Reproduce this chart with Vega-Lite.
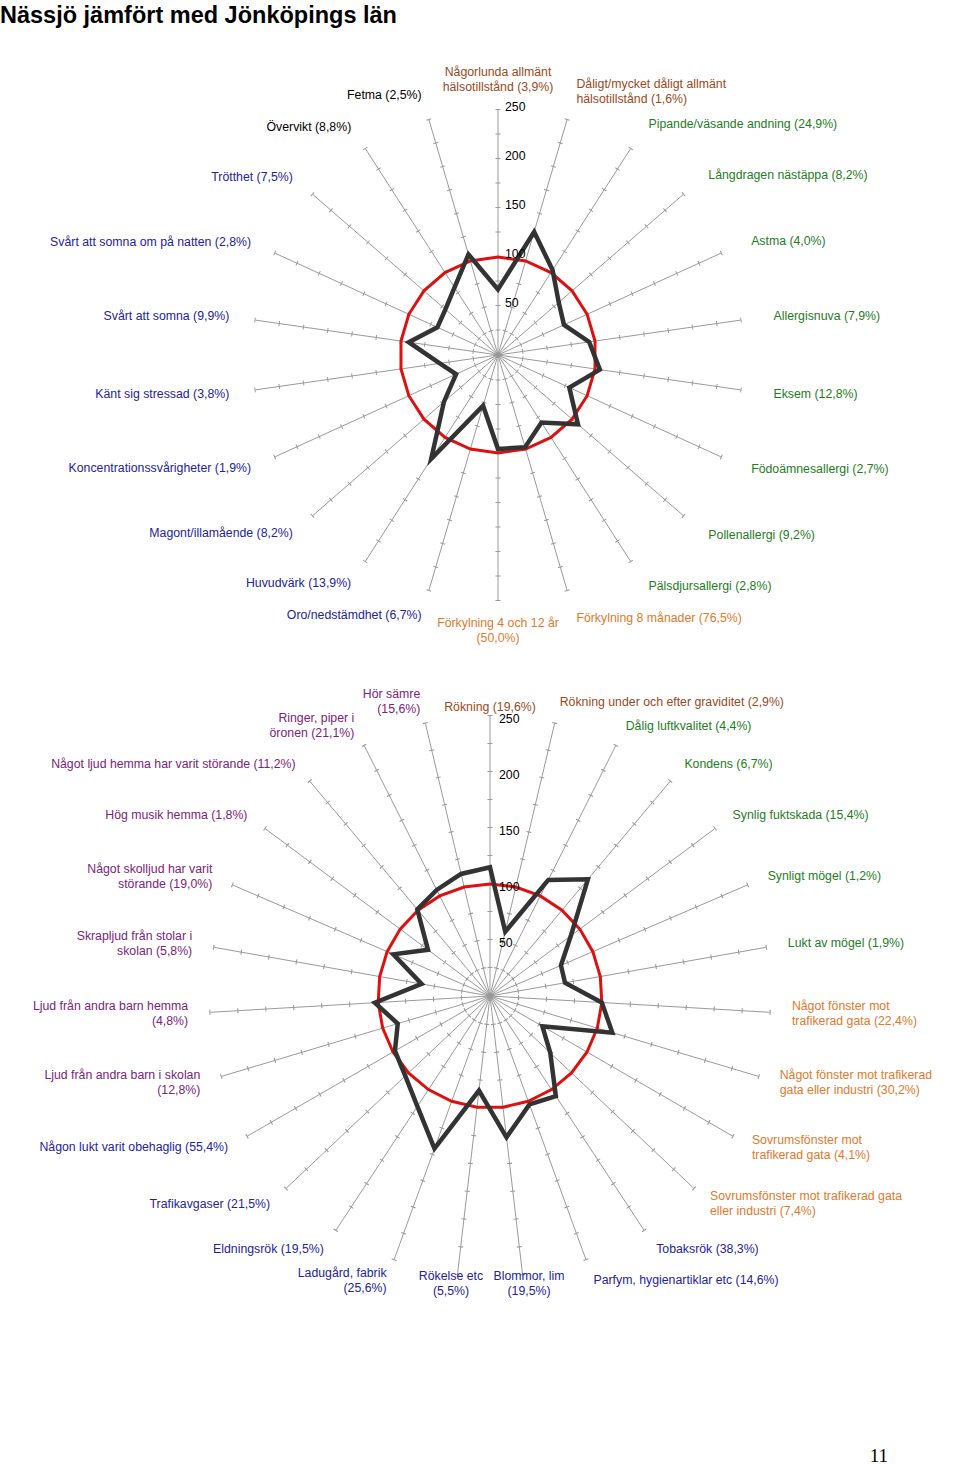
{
 "$schema": "https://vega.github.io/schema/vega-lite/v6.json",
 "padding": {"top": 3, "left": 0, "right": 0, "bottom": 0},
 "spacing": 0,
 "bounds": "flush",
 "background": "white",
 "title": {"text": "Nässjö jämfört med Jönköpings län", "anchor": "start", "frame": "group", "font": "Liberation Sans", "fontSize": 23.5, "fontWeight": "bold", "color": "#000000", "offset": 0},
 "config": {"view": {"stroke": null}, "text": {"font": "Liberation Sans", "fontSize": 12.3}},
 "datasets": {
  "c1": [
   {"i": 0, "value": 67, "lan": 100, "label": "Någorlunda allmänt\nhälsotillstånd (3,9%)", "grp": "brun"},
   {"i": 1, "value": 131, "lan": 100, "label": "Dåligt/mycket dåligt allmänt\nhälsotillstånd (1,6%)", "grp": "brun"},
   {"i": 2, "value": 103, "lan": 100, "label": "Pipande/väsande andning (24,9%)", "grp": "gron"},
   {"i": 3, "value": 82, "lan": 100, "label": "Långdragen nästäppa (8,2%)", "grp": "gron"},
   {"i": 4, "value": 74, "lan": 100, "label": "Astma (4,0%)", "grp": "gron"},
   {"i": 5, "value": 94, "lan": 100, "label": "Allergisnuva (7,9%)", "grp": "gron"},
   {"i": 6, "value": 105, "lan": 100, "label": "Eksem (12,8%)", "grp": "gron"},
   {"i": 7, "value": 80, "lan": 100, "label": "Födoämnesallergi (2,7%)", "grp": "gron"},
   {"i": 8, "value": 108, "lan": 100, "label": "Pollenallergi  (9,2%)", "grp": "gron"},
   {"i": 9, "value": 82, "lan": 100, "label": "Pälsdjursallergi (2,8%)", "grp": "gron"},
   {"i": 10, "value": 98, "lan": 100, "label": "Förkylning 8 månader (76,5%)", "grp": "orange"},
   {"i": 11, "value": 96, "lan": 100, "label": "Förkylning 4 och 12 år\n(50,0%)", "grp": "orange"},
   {"i": 12, "value": 54, "lan": 100, "label": "Oro/nedstämdhet (6,7%)", "grp": "bla"},
   {"i": 13, "value": 126, "lan": 100, "label": "Huvudvärk (13,9%)", "grp": "bla"},
   {"i": 14, "value": 73, "lan": 100, "label": "Magont/illamående (8,2%)", "grp": "bla"},
   {"i": 15, "value": 47, "lan": 100, "label": "Koncentrationssvårigheter (1,9%)", "grp": "bla"},
   {"i": 16, "value": 60, "lan": 100, "label": "Känt sig stressad (3,8%)", "grp": "bla"},
   {"i": 17, "value": 92, "lan": 100, "label": "Svårt att somna (9,9%)", "grp": "bla"},
   {"i": 18, "value": 68, "lan": 100, "label": "Svårt att somna om på natten (2,8%)", "grp": "bla"},
   {"i": 19, "value": 71, "lan": 100, "label": "Trötthet (7,5%)", "grp": "bla"},
   {"i": 20, "value": 82, "lan": 100, "label": "Övervikt (8,8%)", "grp": "svart"},
   {"i": 21, "value": 107, "lan": 100, "label": "Fetma (2,5%)", "grp": "svart"}
  ],
  "c2": [
   {"i": 0, "value": 115, "lan": 100, "label": "Rökning (19,6%)", "grp": "brun"},
   {"i": 1, "value": 59, "lan": 100, "label": "Rökning under och efter graviditet (2,9%)", "grp": "brun"},
   {"i": 2, "value": 116, "lan": 100, "label": "Dålig luftkvalitet (4,4%)", "grp": "gron"},
   {"i": 3, "value": 136, "lan": 100, "label": "Kondens (6,7%)", "grp": "gron"},
   {"i": 4, "value": 90, "lan": 100, "label": "Synlig fuktskada (15,4%)", "grp": "gron"},
   {"i": 5, "value": 69, "lan": 100, "label": "Synligt mögel (1,2%)", "grp": "gron"},
   {"i": 6, "value": 68, "lan": 100, "label": "Lukt av mögel (1,9%)", "grp": "gron"},
   {"i": 7, "value": 100, "lan": 100, "label": "Något fönster mot\ntrafikerad gata (22,4%)", "grp": "orange"},
   {"i": 8, "value": 114, "lan": 100, "label": "Något fönster mot trafikerad\ngata eller industri (30,2%)", "grp": "orange"},
   {"i": 9, "value": 54, "lan": 100, "label": "Sovrumsfönster mot\ntrafikerad gata (4,1%)", "grp": "orange"},
   {"i": 10, "value": 74, "lan": 100, "label": "Sovrumsfönster mot trafikerad gata\neller industri (7,4%)", "grp": "orange"},
   {"i": 11, "value": 107, "lan": 100, "label": "Tobaksrök (38,3%)", "grp": "bla"},
   {"i": 12, "value": 103, "lan": 100, "label": "Parfym, hygienartiklar etc (14,6%)", "grp": "bla"},
   {"i": 13, "value": 127, "lan": 100, "label": "Blommor, lim\n(19,5%)", "grp": "bla"},
   {"i": 14, "value": 85, "lan": 100, "label": "Rökelse etc\n(5,5%)", "grp": "bla"},
   {"i": 15, "value": 145, "lan": 100, "label": "Ladugård, fabrik\n(25,6%)", "grp": "bla"},
   {"i": 16, "value": 118, "lan": 100, "label": "Eldningsrök (19,5%)", "grp": "bla"},
   {"i": 17, "value": 104, "lan": 100, "label": "Trafikavgaser (21,5%)", "grp": "bla"},
   {"i": 18, "value": 98, "lan": 100, "label": "Någon lukt varit obehaglig (55,4%)", "grp": "bla"},
   {"i": 19, "value": 86, "lan": 100, "label": "Ljud från andra barn i skolan\n(12,8%)", "grp": "lila"},
   {"i": 20, "value": 103, "lan": 100, "label": "Ljud från andra barn hemma\n(4,8%)", "grp": "lila"},
   {"i": 21, "value": 62, "lan": 100, "label": "Skrapljud från stolar i\nskolan (5,8%)", "grp": "lila"},
   {"i": 22, "value": 94, "lan": 100, "label": "Något skolljud har varit\nstörande (19,0%)", "grp": "lila"},
   {"i": 23, "value": 69, "lan": 100, "label": "Hög musik hemma (1,8%)", "grp": "lila"},
   {"i": 24, "value": 101, "lan": 100, "label": "Något ljud hemma har varit störande (11,2%)", "grp": "lila"},
   {"i": 25, "value": 106, "lan": 100, "label": "Ringer, piper i\nöronen (21,1%)", "grp": "lila"},
   {"i": 26, "value": 112, "lan": 100, "label": "Hör sämre\n(15,6%)", "grp": "lila"}
  ],
  "ax": [{"v": 50}, {"v": 100}, {"v": 150}, {"v": 200}, {"v": 250}]
 },
 "vconcat": [
  {
   "width": 960, "height": 620,
   "data": {"name": "c1"},
   "encoding": {
    "x": {"field": "x", "type": "quantitative", "scale": {"domain": [-508.16, 471.43], "nice": false, "zero": false}, "axis": null},
    "y": {"field": "y", "type": "quantitative", "scale": {"domain": [-297.96, 334.69], "nice": false, "zero": false}, "axis": null}
   },
   "layer": [
    {
     "transform": [{"calculate": "2*PI*datum.i/22", "as": "t"}, {"calculate": "0", "as": "x"}, {"calculate": "0", "as": "y"}, {"calculate": "250*sin(datum.t)", "as": "x2"}, {"calculate": "250*cos(datum.t)", "as": "y2"}],
     "mark": {"type": "rule", "color": "#9a9a9a", "strokeWidth": 1},
     "encoding": {"x2": {"field": "x2"}, "y2": {"field": "y2"}}
    },
    {
     "transform": [{"calculate": "2*PI*datum.i/22", "as": "t"}, {"calculate": "0", "as": "x"}, {"calculate": "0", "as": "y"}, {"calculate": "251*sin(datum.t)", "as": "x2"}, {"calculate": "251*cos(datum.t)", "as": "y2"}],
     "mark": {"type": "rule", "color": "#9a9a9a", "strokeWidth": 5, "strokeDash": [1, 23.5], "strokeCap": "butt"},
     "encoding": {"x2": {"field": "x2"}, "y2": {"field": "y2"}}
    },
    {
     "transform": [{"calculate": "2*PI*datum.i/22", "as": "t"}, {"calculate": "datum.lan*sin(datum.t)", "as": "x"}, {"calculate": "datum.lan*cos(datum.t)", "as": "y"}],
     "mark": {"type": "line", "color": "#dd1111", "strokeWidth": 3, "interpolate": "linear-closed"},
     "encoding": {"order": {"field": "i", "type": "quantitative"}}
    },
    {
     "transform": [{"calculate": "2*PI*datum.i/22", "as": "t"}, {"calculate": "datum.value*sin(datum.t)", "as": "x"}, {"calculate": "datum.value*cos(datum.t)", "as": "y"}],
     "mark": {"type": "line", "color": "#333333", "strokeWidth": 4.5, "interpolate": "linear-closed", "strokeJoin": "miter"},
     "encoding": {"order": {"field": "i", "type": "quantitative"}}
    },
    {
     "transform": [{"calculate": "2*PI*datum.i/22", "as": "t"}, {"filter": "sin(datum.t) > 0.2"}, {"calculate": "length(split(datum.label, '\\n'))", "as": "nl"}, {"calculate": "284*sin(datum.t)", "as": "x"}, {"calculate": "280*cos(datum.t) + (datum.nl - 1)*7.65", "as": "y"}],
     "mark": {"type": "text", "align": "left", "baseline": "middle", "lineBreak": "\n", "lineHeight": 15},
     "encoding": {"text": {"field": "label"}, "color": {"field": "grp", "type": "nominal", "scale": {"domain": ["brun", "gron", "orange", "bla", "svart", "lila"], "range": ["#994a22", "#1e7d1e", "#e07a2e", "#2323a0", "#000000", "#7b247b"]}, "legend": null}}
    },
    {
     "transform": [{"calculate": "2*PI*datum.i/22", "as": "t"}, {"filter": "sin(datum.t) < -0.2"}, {"calculate": "length(split(datum.label, '\\n'))", "as": "nl"}, {"calculate": "277*sin(datum.t)", "as": "x"}, {"calculate": "277*cos(datum.t) + (datum.nl - 1)*7.65", "as": "y"}],
     "mark": {"type": "text", "align": "right", "baseline": "middle", "lineBreak": "\n", "lineHeight": 15},
     "encoding": {"text": {"field": "label"}, "color": {"field": "grp", "type": "nominal", "scale": {"domain": ["brun", "gron", "orange", "bla", "svart", "lila"], "range": ["#994a22", "#1e7d1e", "#e07a2e", "#2323a0", "#000000", "#7b247b"]}, "legend": null}}
    },
    {
     "transform": [{"calculate": "2*PI*datum.i/22", "as": "t"}, {"filter": "abs(sin(datum.t)) <= 0.2"}, {"calculate": "length(split(datum.label, '\\n'))", "as": "nl"}, {"calculate": "281*sin(datum.t)", "as": "x"}, {"calculate": "281*cos(datum.t) + (datum.nl - 1)*7.65", "as": "y"}],
     "mark": {"type": "text", "align": "center", "baseline": "middle", "lineBreak": "\n", "lineHeight": 15},
     "encoding": {"text": {"field": "label"}, "color": {"field": "grp", "type": "nominal", "scale": {"domain": ["brun", "gron", "orange", "bla", "svart", "lila"], "range": ["#994a22", "#1e7d1e", "#e07a2e", "#2323a0", "#000000", "#7b247b"]}, "legend": null}}
    },
    {
     "data": {"name": "ax"},
     "transform": [{"calculate": "0", "as": "x"}, {"calculate": "datum.v", "as": "y"}],
     "mark": {"type": "text", "align": "left", "baseline": "middle", "dx": 7, "dy": -3, "color": "#000000"},
     "encoding": {"text": {"field": "v", "type": "quantitative", "format": "d"}}
    }
   ]
  },
  {
   "width": 960, "height": 798,
   "title": {"text": "11", "orient": "bottom", "anchor": "end", "font": "Liberation Serif", "fontSize": 19, "fontWeight": "normal", "color": "#000000", "dx": -72, "offset": 2},
   "data": {"name": "c2"},
   "encoding": {
    "x": {"field": "x", "type": "quantitative", "scale": {"domain": [-437.5, 419.64], "nice": false, "zero": false}, "axis": null},
    "y": {"field": "y", "type": "quantitative", "scale": {"domain": [-400.89, 311.61], "nice": false, "zero": false}, "axis": null}
   },
   "layer": [
    {
     "transform": [{"calculate": "2*PI*datum.i/27", "as": "t"}, {"calculate": "0", "as": "x"}, {"calculate": "0", "as": "y"}, {"calculate": "250*sin(datum.t)", "as": "x2"}, {"calculate": "250*cos(datum.t)", "as": "y2"}],
     "mark": {"type": "rule", "color": "#9a9a9a", "strokeWidth": 1},
     "encoding": {"x2": {"field": "x2"}, "y2": {"field": "y2"}}
    },
    {
     "transform": [{"calculate": "2*PI*datum.i/27", "as": "t"}, {"calculate": "0", "as": "x"}, {"calculate": "0", "as": "y"}, {"calculate": "251*sin(datum.t)", "as": "x2"}, {"calculate": "251*cos(datum.t)", "as": "y2"}],
     "mark": {"type": "rule", "color": "#9a9a9a", "strokeWidth": 5, "strokeDash": [1.1, 26.9], "strokeCap": "butt"},
     "encoding": {"x2": {"field": "x2"}, "y2": {"field": "y2"}}
    },
    {
     "transform": [{"calculate": "2*PI*datum.i/27", "as": "t"}, {"calculate": "datum.lan*sin(datum.t)", "as": "x"}, {"calculate": "datum.lan*cos(datum.t)", "as": "y"}],
     "mark": {"type": "line", "color": "#dd1111", "strokeWidth": 3, "interpolate": "linear-closed"},
     "encoding": {"order": {"field": "i", "type": "quantitative"}}
    },
    {
     "transform": [{"calculate": "2*PI*datum.i/27", "as": "t"}, {"calculate": "datum.value*sin(datum.t)", "as": "x"}, {"calculate": "datum.value*cos(datum.t)", "as": "y"}],
     "mark": {"type": "line", "color": "#333333", "strokeWidth": 4.5, "interpolate": "linear-closed", "strokeJoin": "miter"},
     "encoding": {"order": {"field": "i", "type": "quantitative"}}
    },
    {
     "transform": [{"calculate": "2*PI*datum.i/27", "as": "t"}, {"filter": "sin(datum.t) > 0.2"}, {"calculate": "length(split(datum.label, '\\n'))", "as": "nl"}, {"calculate": "270*sin(datum.t)", "as": "x"}, {"calculate": "270*cos(datum.t) + (datum.nl - 1)*6.7", "as": "y"}],
     "mark": {"type": "text", "align": "left", "baseline": "middle", "lineBreak": "\n", "lineHeight": 15},
     "encoding": {"text": {"field": "label"}, "color": {"field": "grp", "type": "nominal", "scale": {"domain": ["brun", "gron", "orange", "bla", "svart", "lila"], "range": ["#994a22", "#1e7d1e", "#e07a2e", "#2323a0", "#000000", "#7b247b"]}, "legend": null}}
    },
    {
     "transform": [{"calculate": "2*PI*datum.i/27", "as": "t"}, {"filter": "sin(datum.t) < -0.2"}, {"calculate": "length(split(datum.label, '\\n'))", "as": "nl"}, {"calculate": "270*sin(datum.t)", "as": "x"}, {"calculate": "270*cos(datum.t) + (datum.nl - 1)*6.7", "as": "y"}],
     "mark": {"type": "text", "align": "right", "baseline": "middle", "lineBreak": "\n", "lineHeight": 15},
     "encoding": {"text": {"field": "label"}, "color": {"field": "grp", "type": "nominal", "scale": {"domain": ["brun", "gron", "orange", "bla", "svart", "lila"], "range": ["#994a22", "#1e7d1e", "#e07a2e", "#2323a0", "#000000", "#7b247b"]}, "legend": null}}
    },
    {
     "transform": [{"calculate": "2*PI*datum.i/27", "as": "t"}, {"filter": "abs(sin(datum.t)) <= 0.2"}, {"calculate": "length(split(datum.label, '\\n'))", "as": "nl"}, {"calculate": "300*sin(datum.t)", "as": "x"}, {"calculate": "258*cos(datum.t) + (datum.nl - 1)*6.7", "as": "y"}],
     "mark": {"type": "text", "align": "center", "baseline": "middle", "lineBreak": "\n", "lineHeight": 15},
     "encoding": {"text": {"field": "label"}, "color": {"field": "grp", "type": "nominal", "scale": {"domain": ["brun", "gron", "orange", "bla", "svart", "lila"], "range": ["#994a22", "#1e7d1e", "#e07a2e", "#2323a0", "#000000", "#7b247b"]}, "legend": null}}
    },
    {
     "data": {"name": "ax"},
     "transform": [{"calculate": "0", "as": "x"}, {"calculate": "datum.v", "as": "y"}],
     "mark": {"type": "text", "align": "left", "baseline": "middle", "dx": 9, "dy": 3, "color": "#000000"},
     "encoding": {"text": {"field": "v", "type": "quantitative", "format": "d"}}
    }
   ]
  }
 ]
}
